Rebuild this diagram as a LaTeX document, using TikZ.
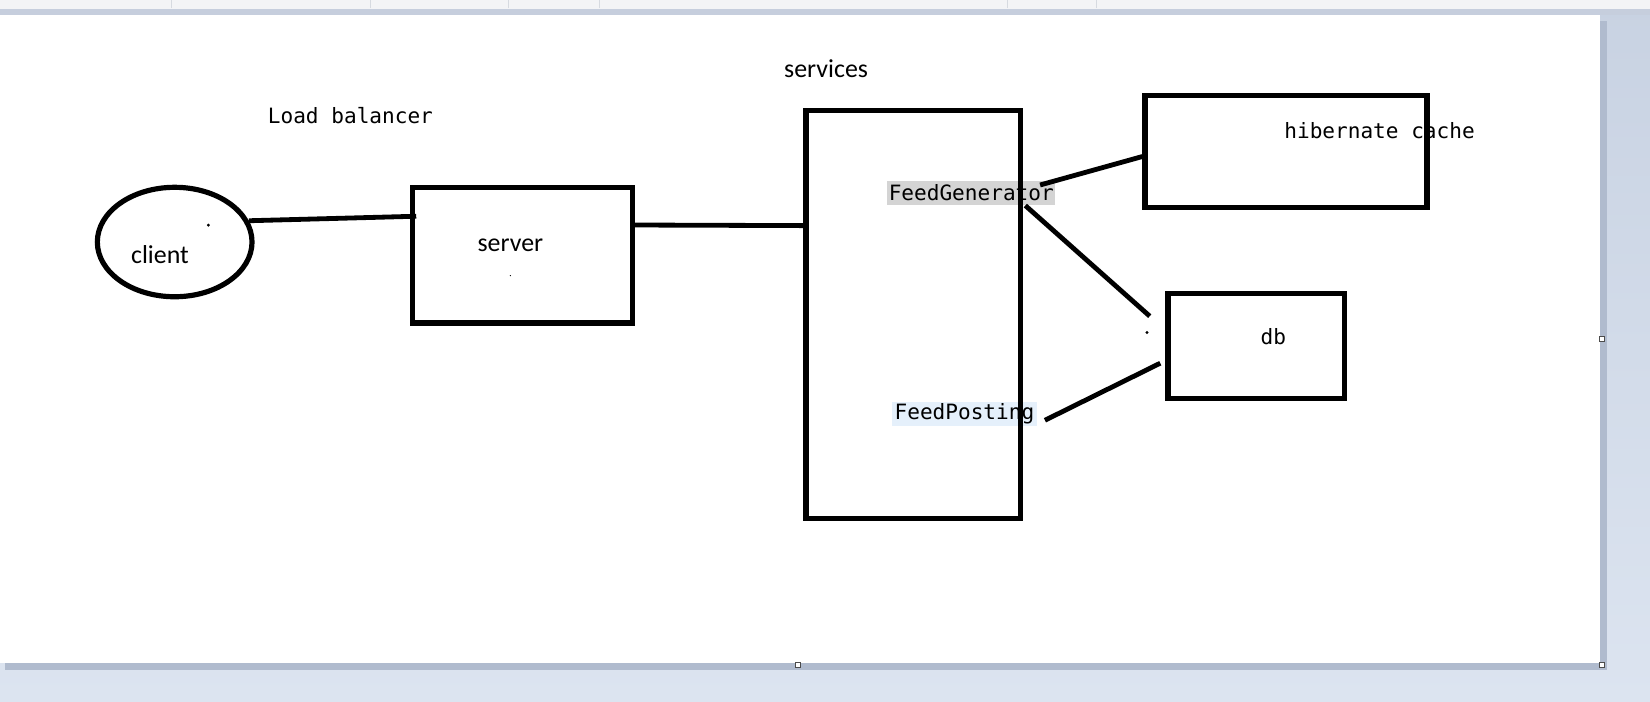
\documentclass[tikz,border=0pt]{standalone}
\usepackage{fontspec}
\usepackage{tikz}
\usetikzlibrary{shapes}
\newfontfamily\labelfont{Carlito}
\newfontfamily\codefont{DejaVu Sans Mono}
\definecolor{desktop}{RGB}{220,228,240}
\definecolor{desktoptop}{RGB}{200,210,226}
\definecolor{pageshadow}{RGB}{176,187,206}
\definecolor{tabstrip}{RGB}{243,244,246}
\definecolor{tabedge}{RGB}{198,206,221}
\definecolor{tabline}{RGB}{214,218,224}
\definecolor{selgray}{RGB}{212,212,212}
\definecolor{selblue}{RGB}{229,240,251}
\tikzstyle{area}=[draw, line width=2.8pt]
\tikzstyle{box}=[area, rectangle, inner sep=0pt]
\tikzstyle{link}=[draw, line width=2.6pt]
\tikzstyle{word}=[font=\labelfont\fontsize{14pt}{16pt}\selectfont, inner sep=0pt]
\tikzstyle{code}=[font=\codefont\fontsize{11.4pt}{13pt}\selectfont, inner sep=0pt]
\tikzstyle{handle}=[draw=black!70, fill=white, line width=0.4pt]

\begin{document}
\begin{tikzpicture}
 	\useasboundingbox (0cm,0cm) rectangle (31.36cm,13.34cm);
 	% window around the page
 	\shade[top color=desktoptop, bottom color=desktop] (0cm,0cm) rectangle (31.36cm,13.34cm);
 	\fill[tabstrip] (0cm,13.16cm) rectangle (31.36cm,13.34cm);
 	\fill[tabedge] (0cm,13.06cm) rectangle (31.36cm,13.16cm);
 	\foreach \x in {3.26,7.04,9.66,11.40,19.14,20.84}
 		\draw[tabline] (\x cm,13.18cm) -- (\x cm,13.34cm);
 	\fill[pageshadow] (0.1cm,0.6cm) rectangle (30.54cm,12.94cm);
 	\fill[white] (0cm,0.74cm) rectangle (30.4cm,13.06cm);
 	\path[handle] (30.39cm,6.85cm) rectangle (30.49cm,6.95cm);
 	\path[handle] (30.39cm,0.65cm) rectangle (30.49cm,0.75cm);
 	\path[handle] (15.11cm,0.65cm) rectangle (15.21cm,0.75cm);

 	% client and load balancer
 	\node[area, ellipse, minimum width=2.94cm, minimum height=2.08cm] (client) at (3.32cm,8.74cm) {};
 	\node[word] (clientlbl) at (3.04cm,8.50cm) {client};
 	\fill (3.96cm,9.06cm) circle (0.03cm);
 	\node[code] (lblabel) at (6.66cm,11.14cm) {Load balancer};
 	\node[box, minimum width=4.18cm, minimum height=2.58cm] (server) at (9.93cm,8.49cm) {};
 	\node[word] (serverlbl) at (9.70cm,8.68cm) {server};
 	\fill (9.70cm,8.10cm) circle (0.012cm);

 	% services
 	\node[word] (serviceslbl) at (15.70cm,12.04cm) {services};
 	\node[code, fill=selgray, minimum width=3.2cm, minimum height=0.46cm] (feedgen) at (18.46cm,9.67cm) {FeedGenerator};
 	\node[code, fill=selblue, minimum width=2.74cm, minimum height=0.46cm] (feedpost) at (18.33cm,5.47cm) {FeedPosting};
 	\node[box, minimum width=4.08cm, minimum height=7.76cm] (services) at (17.36cm,7.36cm) {};

 	% storage
 	\node[code] (cachelbl) at (26.22cm,10.86cm) {hibernate cache};
 	\node[box, minimum width=5.36cm, minimum height=2.12cm] (cache) at (24.44cm,10.46cm) {};
 	\node[box, minimum width=3.36cm, minimum height=2.0cm] (db) at (23.88cm,6.76cm) {};
 	\node[code] (dblbl) at (24.20cm,6.94cm) {db};
 	\fill (21.80cm,7.02cm) circle (0.03cm);

 	\path[link, shorten >=-0.12cm] (client.16) -- (server.161);
 	\path[link] (server.15) -- (services.141);
 	\path[link, shorten <=-0.31cm] (feedgen.north east) -- (cache.182);
 	\path[link, shorten >=0.4cm] (feedgen.-13) -- (db.170);
 	\path[link, shorten <=0.17cm, shorten >=0.11cm] (feedpost.-8) -- (db.189);
\end{tikzpicture}
\end{document}
